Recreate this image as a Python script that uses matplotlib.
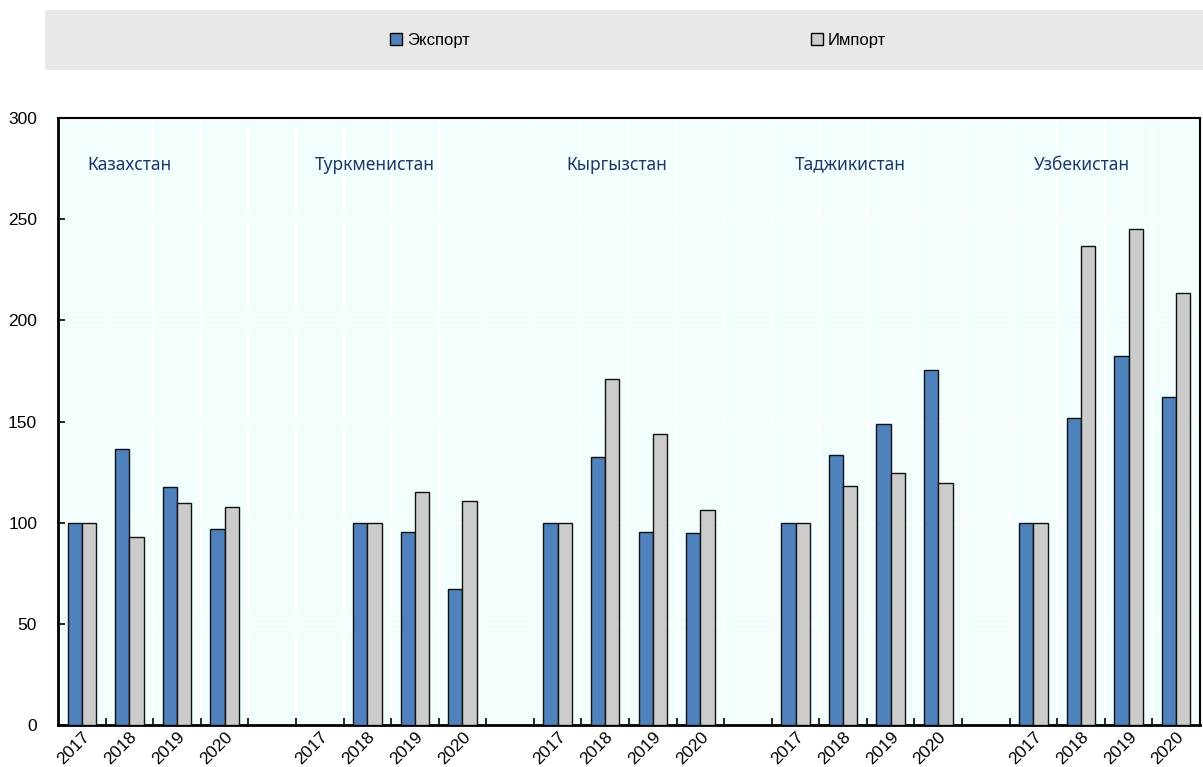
import numpy as np
import matplotlib
matplotlib.use("Agg")
import matplotlib.pyplot as plt
from matplotlib.patches import Rectangle, Patch
from matplotlib.transforms import ScaledTranslation

plt.rcParams['font.family'] = ['Liberation Sans', 'DejaVu Sans']

# data
countries = ["Казахстан", "Туркменистан", "Кыргызстан", "Таджикистан", "Узбекистан"]
years = ["2017", "2018", "2019", "2020"]
export_vals = [
    [100, 136.3, 117.8, 97.0],
    [np.nan, 100, 95.6, 67.0],
    [100, 132.6, 95.6, 94.8],
    [100, 133.5, 148.8, 175.5],
    [100, 151.8, 182.4, 162.0],
]
import_vals = [
    [100, 92.8, 109.9, 107.8],
    [np.nan, 100, 115.0, 110.7],
    [100, 170.9, 144.0, 106.3],
    [100, 118.0, 124.7, 119.8],
    [100, 236.8, 245.2, 213.5],
]

EXP_COL = "#4f81bd"
IMP_COL = "#cccccc"
BG_COL = "#f2fdfe"
NAVY = "#1c376a"

fig = plt.figure(figsize=(12.03, 7.67), dpi=100)
ax = fig.add_axes([58 / 1203, 1 - 725 / 767, 1142 / 1203, 607 / 767])

# legend band
fig.patches.append(Rectangle((45 / 1203, 1 - 70 / 767), 1158 / 1203, 60 / 767,
                             transform=fig.transFigure, facecolor="#e8e8e8",
                             edgecolor="none", zorder=0))

slot = len(years) + 1
xpos, xlabels = [], []
bw = 0.3
for g, name in enumerate(countries):
    x = np.arange(len(years)) + g * slot
    ex = np.array(export_vals[g], dtype=float)
    im = np.array(import_vals[g], dtype=float)
    ax.bar(x - bw / 2, ex, bw, color=EXP_COL, edgecolor="#111111", linewidth=1, zorder=3)
    ax.bar(x + bw / 2, im, bw, color=IMP_COL, edgecolor="#111111", linewidth=1, zorder=3)
    xpos += list(x)
    xlabels += years

# country labels
label_off = [1.0, 1.16, 1.25, 1.15, 1.02]
for g, name in enumerate(countries):
    ax.text(g * slot + label_off[g], 277, name, ha="center", va="center",
            fontsize=12.5, color=NAVY, family=["Noto Sans", "DejaVu Sans"])

n = len(countries) * slot - 1
ax.set_xlim(-0.5, n - 0.5)
ax.set_ylim(0, 300)
ax.set_facecolor(BG_COL)

ax.set_xticks(xpos)
ax.set_xticklabels(xlabels, rotation=45, ha="right", rotation_mode="anchor", fontsize=12.5)
shift = ScaledTranslation(10 / 100, 0, fig.dpi_scale_trans)
for lab in ax.get_xticklabels():
    lab.set_transform(lab.get_transform() + shift)
ax.set_xticks(np.arange(0.5, n - 0.5, 1), minor=True)
ax.tick_params(axis="x", which="major", length=0, pad=3)
ax.tick_params(axis="x", which="minor", direction="in", length=5, width=1.2)
ax.set_yticks(np.arange(0, 301, 50))
ax.tick_params(axis="y", direction="in", length=5, width=1.2, labelsize=12.5, pad=15)

ax.grid(True, axis="y", color="white", linewidth=1.5, zorder=0)
ax.grid(True, axis="x", which="minor", color="white", linewidth=1.5, zorder=0)
ax.set_axisbelow(True)

for s in ax.spines.values():
    s.set_color("black")
    s.set_linewidth(1.5)
ax.spines["left"].set_linewidth(2)
ax.spines["bottom"].set_linewidth(2)

handles = [Patch(facecolor=EXP_COL, edgecolor="black"),
           Patch(facecolor=IMP_COL, edgecolor="black")]
fig.legend(handles, ["Экспорт", "Импорт"], loc="center",
           bbox_to_anchor=(638 / 1203, 1 - 40 / 767), ncol=2, frameon=False,
           fontsize=12, handlelength=0.7, handleheight=0.7, handletextpad=0.3,
           columnspacing=20.5)

fig.savefig("out.png", dpi=100)
